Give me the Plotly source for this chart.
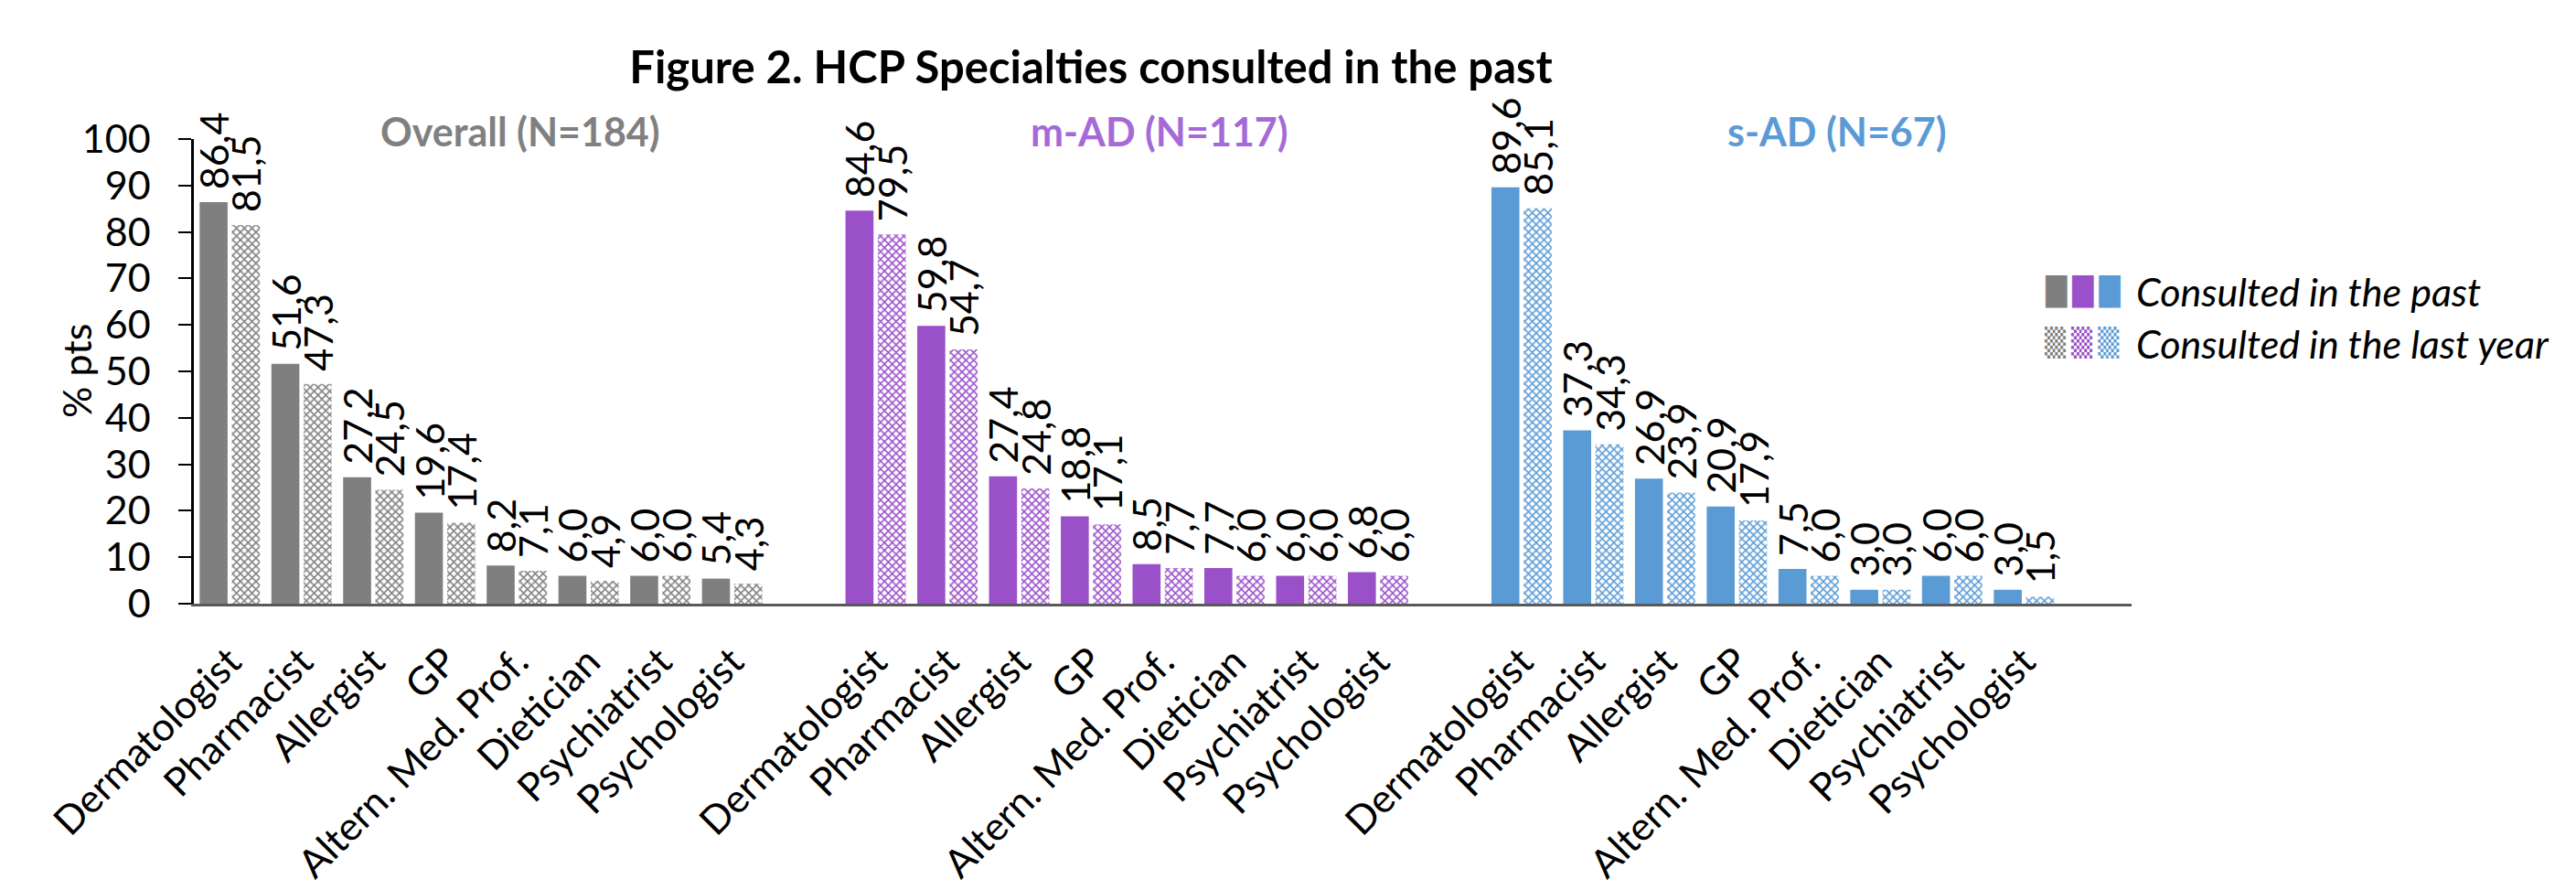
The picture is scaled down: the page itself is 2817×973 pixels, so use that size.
import plotly.graph_objects as go

# ---------------- data ----------------
categories = ["Dermatologist", "Pharmacist", "Allergist", "GP",
              "Altern. Med. Prof.", "Dietician", "Psychiatrist", "Psychologist"]
group_labels = ["Overall (N=184)", "m-AD (N=117)", "s-AD (N=67)"]
series_names = ["Consulted in the past", "Consulted in the last year"]

overall_past = [86.4, 51.6, 27.2, 19.6, 8.2, 6.0, 6.0, 5.4]
overall_year = [81.5, 47.3, 24.5, 17.4, 7.1, 4.9, 6.0, 4.3]
mad_past = [84.6, 59.8, 27.4, 18.8, 8.5, 7.7, 6.0, 6.8]
mad_year = [79.5, 54.7, 24.8, 17.1, 7.7, 6.0, 6.0, 6.0]
sad_past = [89.6, 37.3, 26.9, 20.9, 7.5, 3.0, 6.0, 3.0]
sad_year = [85.1, 34.3, 23.9, 17.9, 6.0, 3.0, 6.0, 1.5]

y_ticks = [0, 10, 20, 30, 40, 50, 60, 70, 80, 90, 100]

# ---------------- styling ----------------
bar_colors = ["#7F7F7F", "#9A50C8", "#5B9BD5"]
label_colors = ["#808080", "#A66AD8", "#5B9BD5"]
FONT = "Lato"
FS = 43

W, H = 2817, 973
ML, PR, MT, MB = 204, 2323, 144, 652
plot_w = PR - ML
plot_h = MB - MT

GROUP_STRIDE = len(categories) + 1  # one empty slot between groups
group_data = [(overall_past, overall_year), (mad_past, mad_year), (sad_past, sad_year)]

fig = go.Figure()
tickvals, ticktext = [], []
for g, (past, year) in enumerate(group_data):
    xs = [g * GROUP_STRIDE + i for i in range(len(categories))]
    tickvals += xs
    ticktext += categories
    fig.add_trace(go.Bar(
        x=xs, y=past, width=0.39, offset=-0.42,
        marker=dict(color=bar_colors[g], line=dict(width=0)),
        texttemplate=" %{y:.1f}", textposition="outside", textangle=-90,
        textfont=dict(family=FONT, size=FS, color="black"),
        constraintext="none", cliponaxis=False,
        name=series_names[0], showlegend=False, hoverinfo="x+y",
    ))
    fig.add_trace(go.Bar(
        x=xs, y=year, width=0.39, offset=0.03,
        marker=dict(color=bar_colors[g], line=dict(width=0),
                    pattern=dict(shape="x", size=6, solidity=0.45,
                                 fillmode="replace")),
        texttemplate=" %{y:.1f}", textposition="outside", textangle=-90,
        textfont=dict(family=FONT, size=FS, color="black"),
        constraintext="none", cliponaxis=False,
        name=series_names[1], showlegend=False, hoverinfo="x+y",
    ))

n_slots = GROUP_STRIDE * len(group_data) - 1


def px_x(p):
    return (p - ML) / plot_w


def px_y(p):
    return (MB - p) / plot_h


annotations = []
# group labels
group_centers = [4.05, 12.95, 22.4]
for g, lab in enumerate(group_labels):
    annotations.append(dict(
        x=group_centers[g], xref="x", y=px_y(135), yref="paper",
        text=f"<b>{lab}</b>", showarrow=False, xanchor="center", yanchor="middle",
        font=dict(family=FONT, size=FS, color=label_colors[g]),
    ))

# y-axis title
annotations.append(dict(
    x=px_x(75), xref="paper", y=0.5, yref="paper", text="% pts", textangle=-90,
    showarrow=False, xanchor="center", yanchor="middle",
    font=dict(family=FONT, size=FS, color="black"),
))

# custom legend
solid_sw = "\u2009".join(f"<span style='color:{c}'>\u2588</span>" for c in bar_colors)
patt_sw = "\u2009".join(f"<span style='color:{c}'>\u2592</span>" for c in bar_colors)
for row, (sw, name) in enumerate([(solid_sw, series_names[0]), (patt_sw, series_names[1])]):
    yy = px_y(310 + row * 57)
    annotations.append(dict(
        x=px_x(2226), xref="paper", y=yy, yref="paper", text=sw, showarrow=False,
        xanchor="left", yanchor="middle",
        font=dict(family="DejaVu Sans", size=30, color="black"),
    ))
    annotations.append(dict(
        x=px_x(2326), xref="paper", y=yy, yref="paper", text=f"<i>{name}</i>",
        showarrow=False, xanchor="left", yanchor="middle",
        font=dict(family=FONT, size=FS, color="black"),
    ))

fig.update_layout(
    width=W, height=H,
    margin=dict(l=ML, r=W - PR, t=MT, b=H - MB, pad=0),
    paper_bgcolor="white", plot_bgcolor="white",
    barmode="overlay",
    separators=",.",
    showlegend=False,
    title=dict(text="<b>Figure 2. HCP Specialties consulted in the past</b>",
               x=1185 / W, xanchor="center", xref="container",
               y=1 - 66 / H, yanchor="middle", yref="container",
               font=dict(family=FONT, size=49, color="black")),
    xaxis=dict(range=[-0.5, n_slots + 0.5], tickmode="array", tickvals=tickvals,
               ticktext=ticktext, tickangle=-45, ticks="", showgrid=False,
               zeroline=False, showline=True, linecolor="#595959", linewidth=3,
               tickfont=dict(family=FONT, size=FS, color="black"),
               ticklabelstandoff=18),
    yaxis=dict(range=[0, 100], tickmode="array", tickvals=y_ticks, ticks="outside",
               ticklen=14, tickwidth=2, tickcolor="black", showgrid=False,
               zeroline=False, showline=True, linecolor="black", linewidth=2.5,
               tickfont=dict(family=FONT, size=FS, color="black"),
               ticklabelstandoff=22),
    annotations=annotations,
)

fig.write_html("out.html")
